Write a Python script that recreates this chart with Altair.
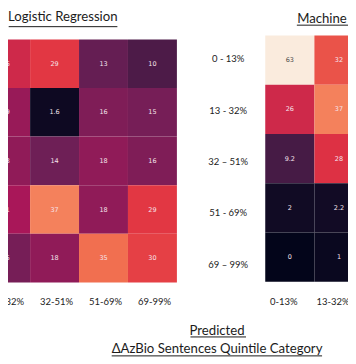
import altair as alt
import pandas as pd

# ---- data ----
rows = ["0 - 13%", "13 - 32%", "32 – 51%", "51 - 69%", "69 – 99%"]
cols = ["0-13%", "13-32%", "32-51%", "51-69%", "69-99%"]

lr_cols = ["13-32%", "32-51%", "51-69%", "69-99%"]
lr_values = [
    [26, 29, 13, 10],
    [19, 1.6, 16, 15],
    [18, 14, 18, 16],
    [21, 37, 18, 29],
    [15, 18, 35, 30],
]
ml_cols = ["0-13%", "13-32%"]
ml_values = [
    [63, 32],
    [26, 37],
    [9.2, 28],
    [2, 2.2],
    [0, 1],
]
lr_title = "Logistic Regression"
ml_title = "Machine Learning"
x_title = ["Predicted", "ΔAzBio Sentences Quintile Category"]

FONT = "Lato"
TXT = "#1c1c1c"
one = pd.DataFrame([{"k": 0}])


def long_df(values, colnames):
    recs = []
    for i, r in enumerate(rows):
        for j, c in enumerate(colnames):
            recs.append({"row": r, "col": c, "v": values[i][j]})
    return pd.DataFrame(recs)


stops = ["#03051A", "#35193E", "#701F57", "#AD1759", "#E13342",
         "#F37651", "#F6B48F", "#FAEBDD"]
vmax = 50
color_scale = alt.Scale(domain=[vmax * i / 7 for i in range(8)], range=stops,
                        interpolate="rgb", clamp=True)


def underline(x1, x2, y):
    return alt.Chart(one).mark_rule(color=TXT, strokeWidth=1).encode(
        x=alt.value(x1), x2=alt.value(x2), y=alt.value(y))


def heat(df, width, height, yoff, label_pad, label_offset, title, extra):
    x = alt.X("col:N", sort=cols,
              scale=alt.Scale(domain=cols, paddingInner=0, paddingOuter=0),
              axis=alt.Axis(title=None, domain=False, ticks=False, tickSize=0,
                            labelAngle=0, labelPadding=label_pad,
                            labelOffset=label_offset, labelBaseline="top",
                            labelFont=FONT, labelFontSize=9.5,
                            labelColor=TXT))
    y = alt.Y("row:N", sort=rows,
              scale=alt.Scale(domain=rows, paddingInner=0, paddingOuter=0),
              axis=None)
    base = alt.Chart(df)
    rect = base.mark_rect(yOffset=yoff).encode(
        x=x, y=y, color=alt.Color("v:Q", scale=color_scale, legend=None))
    text = base.mark_text(yOffset=yoff, font="DejaVu Sans", fontSize=6.5).encode(
        x=x, y=y, text=alt.Text("v:Q", format=".2~g"),
        color=alt.when(alt.datum.v >= 45).then(alt.value("#4a4a4a"))
        .otherwise(alt.value("#f6e4ec")))
    return alt.layer(rect, text, *extra).properties(width=width, height=height,
                                                    title=title)


left = heat(long_df(lr_values, lr_cols), 245.4, 243.7, 4, 18, 2,
            alt.TitleParams(lr_title, font=FONT, fontSize=13.2,
                            fontWeight="normal", color=TXT, anchor="start",
                            dx=76, frame="group", baseline="alphabetic",
                            offset=1.3),
            [])

right = heat(long_df(ml_values, ml_cols), 246.5, 247, 0, 15, -6,
             alt.TitleParams(ml_title, font=FONT, fontSize=13.2,
                             fontWeight="normal", color=TXT, anchor="start",
                             dx=32, frame="group", baseline="alphabetic",
                             offset=-0.7),
             [underline(-75, -19.3, 302.4), underline(-154, 57, 321.4)])

mid_text = alt.Chart(pd.DataFrame({"label": rows})).mark_text(
    font=FONT, fontSize=9.5, color=TXT, dx=7, dy=-1.8).encode(
    y=alt.Y("label:N", sort=rows,
            scale=alt.Scale(type="point", domain=rows, padding=0.5), axis=None),
    text="label:N")
mid = alt.layer(mid_text,
                underline(-169.3, -60.3, -8.8),
                underline(119.7, 226, -10.3)).properties(
    width=87.7, height=257.3,
    title=alt.TitleParams(x_title, orient="bottom", frame="group",
                          anchor="middle", font=FONT, fontSize=13.2,
                          fontWeight="normal", color=TXT, lineHeight=18.4,
                          dx=-4.2, offset=33))

chart = alt.hconcat(left, mid, right, spacing=0, bounds="flush").properties(
    padding={"left": -76, "top": 1, "right": -164, "bottom": 0},
).configure_view(strokeWidth=0)

chart.save("out.html", embed_options={"renderer": "svg", "actions": False})
